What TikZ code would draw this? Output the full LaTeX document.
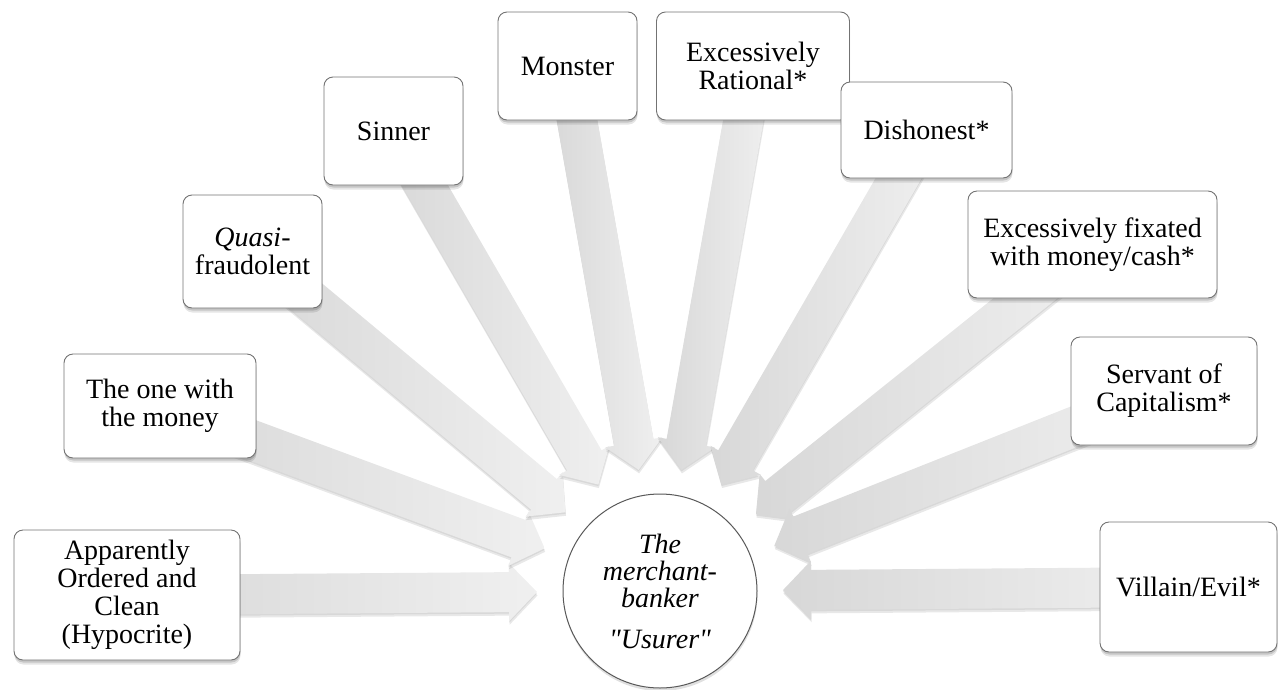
\documentclass[tikz,border=0pt]{standalone}
\usepackage{fontspec}
\setmainfont[Ligatures=TeXOff]{Liberation Serif}
\usetikzlibrary{shadows}
\pgfdeclarelayer{bg}
\pgfsetlayers{bg,main}

\newcommand{\myarrowshape}{(123,0) -- (151,29) -- (151,20) -- (\myarrlen,20) -- (\myarrlen,-20) -- (151,-20) -- (151,-29) -- cycle}
\newcommand{\blockarrow}[1]{%
  \pgfpointdiff{\pgfpointanchor{O}{center}}{\pgfpointanchor{#1}{center}}%
  \pgfgetlastxy{\myax}{\myay}%
  \pgfmathsetmacro{\myarrang}{atan2(\myay,\myax)}%
  \pgfmathsetmacro{\myarrlen}{veclen(\myax,\myay)}%
  \begin{scope}[transform canvas={yshift=-3.5pt, xshift=0.5pt}]
    \begin{scope}[shift={(O)}, rotate=\myarrang]
      \fill[black, opacity=0.09] \myarrowshape;
    \end{scope}
  \end{scope}
  \begin{scope}[transform canvas={yshift=-1.5pt}]
    \begin{scope}[shift={(O)}, rotate=\myarrang]
      \fill[black, opacity=0.07] \myarrowshape;
    \end{scope}
  \end{scope}
  \begin{scope}[shift={(O)}, rotate=\myarrang]
    \shade[left color=gray!31, right color=gray!12] \myarrowshape;
  \end{scope}}

\begin{document}
\begin{tikzpicture}[x=1pt,y=-1pt,
  boxstyle/.style={draw=black!55, line width=0.9pt, fill=white, rounded corners=9pt,
    inner sep=0pt, align=center, font=\fontsize{28}{28}\selectfont,
    drop shadow={shadow xshift=0.5pt, shadow yshift=-4.5pt, opacity=0.10, fill=black},
    drop shadow={shadow xshift=0.3pt, shadow yshift=-2.5pt, opacity=0.14, fill=black}},
  hubstyle/.style={circle, draw=black!65, line width=1pt, fill=white, inner sep=0pt,
    minimum size=194pt, align=center, font=\itshape\fontsize{28}{27}\selectfont,
    drop shadow={shadow xshift=0.5pt, shadow yshift=-3pt, opacity=0.12, fill=black}}
  ]
\useasboundingbox (0,0) rectangle (1278,689);

\node[hubstyle] (O) at (660,591) {The\\merchant-\\banker\\[14pt]"Usurer"};

\node[boxstyle, minimum width=226pt, minimum height=130pt] (ap) at (127,595)
  {Apparently\\Ordered and\\Clean\\(Hypocrite)};
\node[boxstyle, minimum width=192pt, minimum height=104pt] (money) at (160,406)
  {The one with\\the money};
\node[boxstyle, minimum width=139pt, minimum height=113pt] (quasi) at (252.5,251.5)
  {\textit{Quasi}-\\fraudolent};
\node[boxstyle, minimum width=139pt, minimum height=108pt] (sinner) at (393.5,131)
  {Sinner};
\node[boxstyle, minimum width=139pt, minimum height=108pt] (monster) at (567.5,66)
  {Monster};
\node[boxstyle, minimum width=193pt, minimum height=108pt] (rational) at (753,66)
  {Excessively\\Rational*};
\node[boxstyle, minimum width=171pt, minimum height=96pt] (dishonest) at (926.5,130)
  {Dishonest*};
\node[boxstyle, minimum width=249pt, minimum height=107pt] (fixated) at (1092.5,244.5)
  {Excessively fixated\\with money/cash*};
\node[boxstyle, minimum width=186pt, minimum height=108pt] (servant) at (1164,391)
  {Servant of\\Capitalism*};
\node[boxstyle, minimum width=177pt, minimum height=130pt] (villain) at (1188.5,587)
  {Villain/Evil*};

\begin{pgfonlayer}{bg}
  \blockarrow{ap}
  \blockarrow{money}
  \blockarrow{quasi}
  \blockarrow{sinner}
  \blockarrow{monster}
  \blockarrow{rational}
  \blockarrow{dishonest}
  \blockarrow{fixated}
  \blockarrow{servant}
  \blockarrow{villain}
\end{pgfonlayer}
\end{tikzpicture}
\end{document}
